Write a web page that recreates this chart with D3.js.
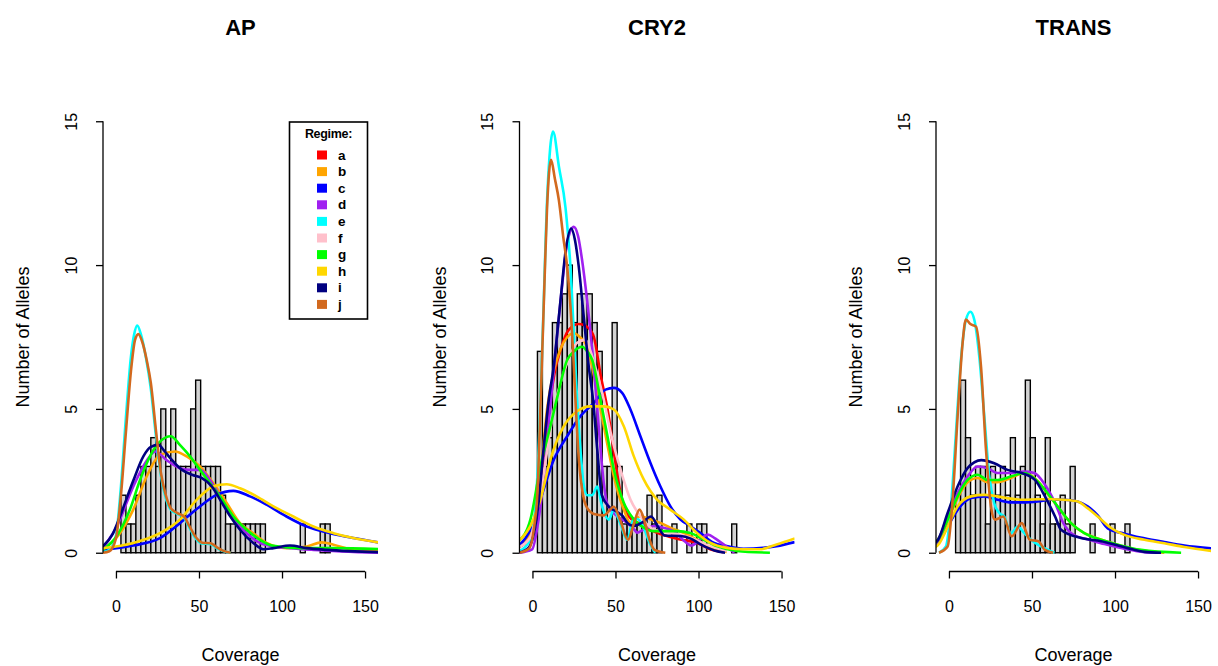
<!DOCTYPE html>
<html>
<head>
<meta charset="utf-8">
<script src="https://cdn.jsdelivr.net/npm/d3@7"></script>
<style>
    body { margin: 0; background: #fff; }
    svg { display: block; }
    text { font-family: "Liberation Sans", Arial, Helvetica, sans-serif; fill: #000; }
</style>
</head>
<body>
<svg width="1218" height="666"></svg>
<script>
// ---- data ----
const panelNames = ['AP', 'CRY2', 'TRANS']
const regimes = ['a', 'b', 'c', 'd', 'e', 'f', 'g', 'h', 'i', 'j']
const xTicks = [0, 50, 100, 150]
const yTicks = [0, 5, 10, 15]
const binWidth = 3
const histStart = [3, 3, 4]

const apCounts = [2, 1, 1, 2, 3, 3, 4, 3, 5, 3, 5, 3, 3, 3, 5, 6, 3, 3, 3, 3, 2,
    1, 1, 1, 1, 1, 1, 1, 1, 0, 0, 0, 0, 0, 0, 0, 1, 0, 0, 0, 1, 1,
    0, 0, 0, 0, 0, 0, 0, 0, 0, 0]
const cry2Counts = [7, 3, 4, 8, 8, 9, 10, 8, 9, 9, 9, 8, 7, 3, 3, 8, 3, 1, 1, 1, 1, 1,
    2, 1, 2, 0, 0, 1, 0, 0, 1, 0, 1, 1, 0, 0, 0, 0, 0, 1, 0, 0, 0, 0, 0, 0, 0, 0]
const transCounts = [2, 6, 4, 2, 3, 3, 1, 3, 2, 3, 2, 4, 2, 3, 6, 4, 2, 1, 4, 1, 1, 2,
    1, 3, 0, 0, 0, 1, 0, 0, 0, 1, 0, 0, 1, 0, 0, 0, 0, 0, 0, 0, 0, 0, 0, 0, 0, 0]

// density curves, [coverage, alleles]
const apCurves = {
    b: [[-8, 0.1], [2.4, 0.68], [10.4, 1.5], [18.5, 2.65], [26.5, 3.4], [35.5, 3.52], [42.6, 3.35], [50.6, 3.0], [58.6, 2.42], [66.7, 1.73], [74.7, 1.03], [82.7, 0.68], [90.7, 0.34], [102.7, 0.16], [114.9, 0.22], [124, 0.36], [131, 0.28], [143, 0.1], [158, 0.05]],
    c: [[-8, 0.1], [10.4, 0.25], [26.5, 0.51], [38.5, 1.03], [50.6, 1.61], [60.6, 2.01], [70.7, 2.15], [80.7, 1.96], [90.7, 1.67], [102.7, 1.26], [114.9, 0.91], [128.9, 0.68], [143, 0.51], [158, 0.36]],
    d: [[-8, 0.16], [0.4, 0.9], [10.4, 2.3], [18.5, 3.2], [23.7, 3.52], [30.5, 3.22], [38.5, 2.94], [44.6, 2.88], [50.6, 2.88], [56.6, 2.53], [62.6, 1.96], [70.7, 1.2], [78.7, 0.68], [86.7, 0.34], [94.8, 0.22], [104.8, 0.16], [119, 0.1], [158, 0]],
    e: [[-8, 0.02], [-4, 0.1], [0, 0.6], [3, 2.3], [6, 4.7], [9, 6.8], [11, 7.6], [12.8, 7.9], [15, 7.6], [18, 6.8], [21, 5.7], [24, 4.1], [27, 2.7], [30, 1.9], [33, 1.5], [37, 1.35], [41, 1.22], [44, 0.9], [48, 0.5], [52, 0.32], [57, 0.3], [61, 0.15], [65, 0.05], [69, 0]],
    g: [[-8, 0.1], [0.4, 0.57], [8.4, 1.5], [14.5, 2.53], [20.5, 3.35], [26.5, 3.86], [33, 4.05], [38.5, 3.75], [44.6, 3.35], [50.6, 2.88], [56.6, 2.42], [62.6, 1.96], [70.7, 1.26], [78.7, 0.8], [86.7, 0.45], [94.8, 0.24], [110.8, 0.16], [131, 0.16], [158, 0.13]],
    h: [[-8, 0.16], [10.4, 0.34], [26.5, 0.68], [38.5, 1.15], [48.6, 1.84], [58.6, 2.3], [66.7, 2.38], [74.7, 2.24], [84.7, 1.96], [94.8, 1.61], [106.8, 1.26], [118.9, 0.91], [131, 0.68], [143, 0.51], [158, 0.36]],
    i: [[-8, 0.22], [-2, 0.65], [2.4, 1.26], [10.4, 2.5], [16.5, 3.35], [21, 3.68], [25.5, 3.75], [29, 3.55], [32.7, 3.29], [39.8, 2.88], [45.8, 2.71], [51.8, 2.59], [57.8, 2.3], [63.9, 1.73], [68.9, 1.26], [74.7, 0.8], [82.7, 0.34], [88.7, 0.12], [94.8, 0.16], [104.8, 0.25], [114.9, 0.16], [127, 0.1], [158, 0.02]],
    j: [[-8, 0], [-4, 0.05], [0, 0.5], [3, 2.0], [6, 4.2], [9, 6.3], [11.5, 7.4], [13.5, 7.6], [16, 7.3], [18.5, 6.7], [21, 5.9], [24, 4.3], [27, 2.8], [30, 2.0], [33, 1.55], [37, 1.38], [41, 1.26], [44, 0.95], [48, 0.55], [52, 0.35], [57, 0.33], [61, 0.18], [64, 0.08], [69, 0]]
}
const cry2Curves = {
    a: [[-8, 0.2], [-1.2, 0.58], [3, 1.8], [6.6, 3.3], [10.8, 5.31], [13.5, 6.3], [16.9, 7.05], [21.7, 7.74], [27.9, 7.95], [34, 7.8], [37, 7.5], [41, 6.2], [45.8, 4.8], [49.8, 3.2], [53, 2.1], [55.8, 1.5], [61, 1.1], [66, 1.0], [71, 0.8], [77, 0.65], [83, 0.55], [89, 0.46], [99, 0.35], [107, 0.12], [115, 0.02]],
    b: [[-8, 0.25], [-1.2, 0.69], [4.8, 2.66], [8.8, 5.0], [12.8, 6.3], [17, 7.1], [21, 7.5], [24.9, 7.63], [28.5, 7.5], [32.9, 7.16], [36.9, 6.2], [41, 5.0], [45, 3.8], [49, 2.66], [55, 1.5], [59, 1.04], [65, 1.27], [71, 1.16], [77, 1.04], [83, 0.87], [91, 0.69], [99, 0.46], [107, 0.17], [117, 0.03]],
    c: [[-8, 0.25], [-1.2, 0.81], [4.8, 1.85], [12.9, 3.24], [20.9, 4.05], [28.9, 4.75], [36.9, 5.2], [44, 5.67], [49, 5.73], [54, 5.56], [59, 4.98], [65, 4.05], [71, 3.13], [77, 2.31], [83, 1.62], [89, 1.16], [95, 0.93], [101, 0.69], [109, 0.35], [117, 0.23], [127, 0.14], [139, 0.17], [147, 0.23], [158, 0.37]],
    d: [[-8, 0], [-0.2, 0.12], [3, 0.9], [5.8, 2.08], [9.8, 4.5], [13.9, 7.0], [17.9, 9.3], [21, 10.8], [24.9, 11.33], [27.5, 11.0], [29.9, 10.17], [32.9, 8.78], [36, 7.05], [38.6, 5.31], [41, 3.6], [43, 2.4], [45, 1.7], [51, 1.27], [57, 1.04], [61.4, 0.8], [63, 0.7], [67, 0.81], [73, 0.93], [79, 0.87], [85, 0.75], [91.6, 0.4], [95.6, 0.25], [100, 0.4], [105.6, 0.63], [110, 0.5], [113.6, 0.35], [121.6, 0]],
    e: [[-8, 0.05], [-1, 0.5], [3, 2.7], [6, 7.3], [9, 12.5], [12.4, 14.64], [16, 13.4], [19.9, 12.0], [21.5, 11.0], [22.9, 9.94], [24.9, 7.63], [26.9, 5.31], [29, 3.5], [31, 2.3], [33, 2.0], [36, 2.0], [39, 2.3], [42, 1.6], [46, 1.15], [49, 1.5], [53, 1.0], [57, 0.45], [61, 1.2], [64, 1.15], [67.5, 0.8], [70.5, 0.35], [74, 0]],
    f: [[-8, 0.2], [-1.2, 0.55], [4.8, 2.08], [12.9, 4.98], [20.9, 6.6], [26.9, 7.3], [31.9, 7.4], [35, 7.0], [38.9, 6.24], [43, 5.31], [47, 4.2], [53, 2.9], [59, 1.85], [65, 1.27], [73, 0.81], [83, 0.69], [95, 0.52], [107, 0.23], [117, 0.05]],
    g: [[-8, 0.42], [-1.2, 1.16], [4.8, 3.0], [10.8, 4.4], [14.9, 5.4], [20.9, 6.7], [25, 7.0], [29.9, 7.16], [33, 7.0], [36, 6.7], [41, 5.31], [45, 4.1], [49, 2.9], [55, 1.74], [61, 1.16], [67, 0.87], [73, 0.75], [79, 0.75], [87, 0.75], [95, 0.69], [103, 0.46], [111, 0.23], [123, 0.06], [143, 0]],
    h: [[-8, 0.42], [-1.2, 0.93], [4.8, 1.85], [10.8, 3.24], [18.9, 4.4], [26.9, 4.92], [34.9, 5.09], [43, 5.09], [49, 4.98], [55, 4.4], [61, 3.36], [67, 2.55], [75, 1.85], [83, 1.5], [91, 1.16], [99, 0.69], [107, 0.35], [117, 0.17], [127, 0.12], [137, 0.12], [147, 0.29], [158, 0.5]],
    i: [[-8, 0], [-2, 0.2], [1, 0.7], [3.6, 1.7], [6.5, 3.5], [9.8, 5.31], [12.8, 6.47], [16.9, 8.78], [20, 10.5], [23.3, 11.27], [25.5, 10.9], [27.9, 9.94], [30.9, 8.2], [33.9, 6.47], [36.5, 5.31], [39, 3.6], [41.8, 2.0], [46, 1.6], [50, 1.45], [54, 1.3], [57.8, 1.0], [61.4, 0.93], [65.5, 1.03], [71.5, 1.26], [75.5, 0.91], [79.5, 0.6], [89, 0.58], [95, 0.5], [101.6, 0.28], [109.6, 0.08], [116, 0]],
    j: [[-8, 0], [-2, 0.15], [1, 0.9], [3, 2.1], [4.5, 4.5], [5.8, 6.8], [7.3, 9.5], [8.8, 12.0], [11.2, 13.66], [13.5, 13.0], [15.9, 12.26], [18.5, 11.0], [20.9, 9.94], [23.9, 7.63], [25.9, 5.31], [28, 3.2], [30.5, 2.0], [33, 1.55], [37, 1.35], [43, 1.3], [49, 1.6], [53, 1.1], [57.5, 0.45], [61, 1.0], [64.5, 1.5], [67.5, 1.1], [70.5, 0.45], [73.5, 0.1], [80, 0]]
}
const transCurves = {
    b: [[-8, 0.3], [-0.8, 1.1], [5.2, 1.9], [11.2, 2.45], [17.3, 2.6], [23.3, 2.45], [29.3, 2.45], [37.3, 2.6], [45.4, 2.77], [53.4, 2.5], [59.4, 2.05], [65.5, 1.6], [73.5, 1.03], [81.5, 0.68], [89.6, 0.5], [101.6, 0.28], [113.7, 0.1], [129.7, 0]],
    c: [[-8, 0.25], [-6.4, 0.34], [-0.8, 0.91], [5.2, 1.49], [13.3, 1.9], [21.3, 1.96], [29.3, 1.84], [37.3, 1.75], [45.4, 1.75], [53.4, 1.78], [61.4, 1.84], [69.5, 1.84], [77.5, 1.78], [83.5, 1.61], [89.6, 1.3], [95.6, 0.85], [105.6, 0.66], [117.7, 0.5], [129.7, 0.37], [141.8, 0.25], [158.4, 0.15]],
    d: [[-8, 0.3], [-6.4, 0.45], [-0.8, 1.26], [5.2, 2.07], [11.2, 2.65], [17.3, 3.0], [23.3, 2.94], [29.3, 2.77], [37.3, 2.77], [45.4, 2.82], [51.4, 2.77], [57.4, 2.4], [63.9, 1.73], [68.9, 1.03], [75.5, 0.6], [83.5, 0.47], [93.6, 0.3], [105.6, 0.14], [117.7, 0.02], [125, 0]],
    e: [[-6, 0], [-1.8, 0.22], [1.2, 1.6], [4.2, 4.15], [7.2, 6.7], [10.2, 8.09], [12.9, 8.38], [15.3, 8.09], [18.3, 6.8], [21.3, 4.73], [24.3, 2.65], [27.3, 1.72], [30.3, 1.38], [33.3, 1.26], [37.3, 0.68], [41.4, 0.91], [45.4, 0.68], [49.4, 0.45], [55.4, 0.22], [63.5, 0]],
    g: [[-8, 0.35], [-6.4, 0.47], [-0.8, 1.15], [5.2, 1.96], [11.2, 2.53], [17.3, 2.71], [23.3, 2.53], [29.3, 2.53], [37.3, 2.65], [45.4, 2.77], [53.4, 2.48], [59.4, 2.07], [65.5, 1.61], [73.5, 1.03], [81.5, 0.68], [91.6, 0.45], [101.6, 0.28], [115.7, 0.1], [139.8, 0]],
    h: [[-8, 0.2], [-6.4, 0.28], [-0.8, 0.9], [5.2, 1.61], [13.3, 1.96], [21.3, 2.01], [29.3, 1.96], [37.3, 1.88], [45.4, 1.84], [53.4, 1.86], [61.4, 1.86], [69.5, 1.84], [77.5, 1.78], [83.5, 1.55], [89.6, 1.26], [97.6, 0.86], [105.6, 0.62], [117.7, 0.45], [129.7, 0.33], [141.8, 0.2], [158.4, 0.06]],
    i: [[-8, 0.35], [-6.4, 0.47], [-0.8, 1.38], [5.2, 2.3], [11.2, 2.94], [19.5, 3.22], [27.3, 3.11], [35.3, 2.88], [43.8, 2.77], [51.8, 2.53], [57.8, 1.96], [63.9, 1.26], [67.5, 0.8], [79.5, 0.51], [91.6, 0.4], [107.6, 0.16], [117.7, 0.03], [127.7, 0]],
    j: [[-6, 0], [-0.8, 0.22], [2.2, 1.84], [5.2, 4.73], [8.2, 7.28], [10.2, 8.11], [12.9, 7.95], [16.3, 7.86], [19.3, 6.47], [22.3, 3.58], [25.3, 1.61], [27.7, 1.15], [32.7, 1.26], [37.8, 0.57], [43.8, 1.03], [48.8, 0.45], [53.8, 0.4], [57.8, 0.1], [62.8, 0]]
}

const panelCounts = [apCounts, cry2Counts, transCounts]
const panelCurves = [apCurves, cry2Curves, transCurves]

// ---- styles / layout ----
const regimeColors = {
    a: '#FF0000', b: '#FFA500', c: '#0000FF', d: '#A020F0', e: '#00FFFF',
    f: '#FFC0CB', g: '#00FF00', h: '#FFD700', i: '#000080', j: '#D2691E'
}
const panelLeft = [103, 519.5, 936]
const plotWidth = 275
const plotTop = 104
const plotBottom = 570

const svg = d3.select('svg')

panelNames.forEach((name, p) => {
    const left = panelLeft[p]
    const x = d3.scaleLinear().domain([-7.8, 157.8]).range([left, left + plotWidth])
    const y = d3.scaleLinear().domain([-0.6, 15.6]).range([plotBottom, plotTop])
    const g = svg.append('g').attr('class', 'panel-' + name)

    const clipId = 'clip' + p
    svg.append('clipPath').attr('id', clipId)
        .append('rect')
        .attr('x', left).attr('y', plotTop)
        .attr('width', plotWidth).attr('height', plotBottom - plotTop)

    // histogram
    const counts = panelCounts[p]
    g.append('g')
        .attr('clip-path', `url(#${clipId})`)
        .selectAll('rect')
        .data(counts)
        .enter()
        .append('rect')
        .attr('x', (d, i) => x(histStart[p] + i * binWidth))
        .attr('width', x(binWidth) - x(0))
        .attr('y', d => y(d))
        .attr('height', d => y(0) - y(d))
        .attr('fill', '#D3D3D3')
        .attr('stroke', '#000')
        .attr('stroke-width', 1.4)

    // density lines
    const line = d3.line()
        .x(d => x(d[0]))
        .y(d => y(d[1]))
        .curve(d3.curveMonotoneX)
    const curves = panelCurves[p]
    g.append('g')
        .attr('clip-path', `url(#${clipId})`)
        .selectAll('path')
        .data(regimes.filter(r => curves[r]))
        .enter()
        .append('path')
        .attr('d', r => line(curves[r]))
        .attr('fill', 'none')
        .attr('stroke', r => regimeColors[r])
        .attr('stroke-width', 2.6)
        .attr('stroke-linejoin', 'round')

    // x axis
    const xAxis = g.append('g')
        .attr('transform', `translate(0, ${plotBottom + 1.5})`)
        .call(d3.axisBottom(x).tickValues(xTicks).tickSize(7).tickPadding(22))
    xAxis.select('.domain').remove()
    xAxis.append('line')
        .attr('x1', x(xTicks[0])).attr('x2', x(xTicks[xTicks.length - 1]))
        .attr('stroke', '#000').attr('stroke-width', 1.3)
    xAxis.selectAll('.tick line').attr('stroke-width', 1.3)
    xAxis.selectAll('.tick text')
        .style('font-size', '16px')
        .style('font-family', '"Liberation Sans", Arial, sans-serif')

    // y axis
    const yAxis = g.append('g')
        .attr('transform', `translate(${left}, 0)`)
        .call(d3.axisLeft(y).tickValues(yTicks).tickSize(7))
    yAxis.select('.domain').remove()
    yAxis.append('line')
        .attr('y1', y(yTicks[0])).attr('y2', y(yTicks[yTicks.length - 1]))
        .attr('stroke', '#000').attr('stroke-width', 1.3)
    yAxis.selectAll('.tick line').attr('stroke-width', 1.3)
    yAxis.selectAll('.tick text')
        .attr('x', null).attr('dy', null)
        .attr('transform', 'translate(-32, 0) rotate(-90)')
        .attr('text-anchor', 'middle')
        .attr('dominant-baseline', 'central')
        .style('font-size', '16px')
        .style('font-family', '"Liberation Sans", Arial, sans-serif')

    // labels
    const cx = left + plotWidth / 2
    g.append('text')
        .attr('x', cx).attr('y', 35)
        .attr('text-anchor', 'middle')
        .style('font-size', '22px').style('font-weight', 'bold')
        .text(name)
    g.append('text')
        .attr('x', cx).attr('y', 661)
        .attr('text-anchor', 'middle')
        .style('font-size', '18px')
        .text('Coverage')
    g.append('text')
        .attr('transform', `translate(${left - 80}, ${(plotTop + plotBottom) / 2}) rotate(-90)`)
        .attr('text-anchor', 'middle')
        .attr('dominant-baseline', 'central')
        .style('font-size', '18px')
        .text('Number of Alleles')
})

// legend in first panel
const legend = svg.append('g').attr('class', 'legend')
legend.append('rect')
    .attr('x', 289.5).attr('y', 122)
    .attr('width', 78).attr('height', 197)
    .attr('fill', '#fff')
    .attr('stroke', '#000')
    .attr('stroke-width', 1.6)
legend.append('text')
    .attr('x', 328.5).attr('y', 137.5)
    .attr('text-anchor', 'middle')
    .style('font-size', '12.5px').style('font-weight', 'bold')
    .style('letter-spacing', '-0.3px')
    .text('Regime:')
const rows = legend.selectAll('g.row')
    .data(regimes)
    .enter()
    .append('g')
    .attr('class', 'row')
    .attr('transform', (d, i) => `translate(0, ${155 + i * 16.6})`)
rows.append('rect')
    .attr('x', 317).attr('y', -4.5)
    .attr('width', 10).attr('height', 9)
    .attr('fill', d => regimeColors[d])
rows.append('text')
    .attr('x', 338).attr('y', 0)
    .attr('dominant-baseline', 'central')
    .style('font-size', '13.5px').style('font-weight', 'bold')
    .text(d => d)
</script>
</body>
</html>
